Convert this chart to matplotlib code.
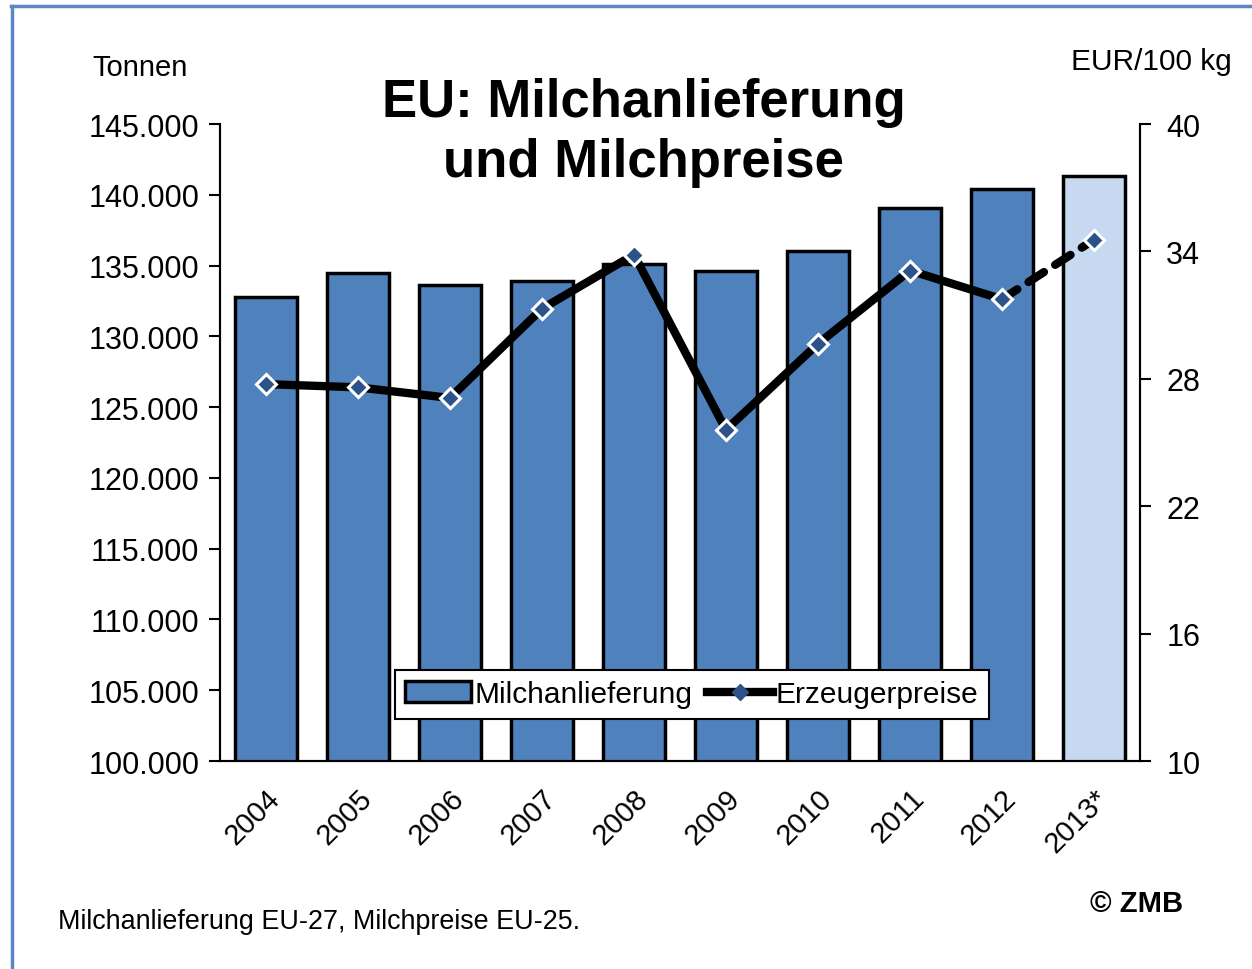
import matplotlib.pyplot as plt
import numpy as np
from matplotlib.lines import Line2D
from matplotlib.patches import Patch

plt.rcParams['font.family'] = ['Liberation Sans', 'DejaVu Sans']

years = ['2004', '2005', '2006', '2007', '2008', '2009', '2010', '2011', '2012', '2013*']
milk = [132800, 134500, 133600, 133900, 135100, 134600, 136000, 139100, 140400, 141300]   # Tonnen
price = [27.75, 27.6, 27.1, 31.3, 33.85, 25.6, 29.65, 33.1, 31.75, 34.55]                   # EUR/100 kg

bar_col = '#4F81BD'
bar_col_fc = '#C6D9F1'
mk_col = '#2B5289'

fig = plt.figure(figsize=(12.52, 9.70), dpi=100)
ax = fig.add_axes([0.1757, 0.2144, 0.7348, 0.6567])
ax2 = ax.twinx()

x = np.arange(len(years))
cols = [bar_col] * (len(years) - 1) + [bar_col_fc]
ax.bar(x, milk, width=0.68, color=cols, edgecolor='black', linewidth=2.5, zorder=2)

ax.set_ylim(100000, 145000)
ax.set_xlim(-0.5, len(years) - 0.5)
ax.set_yticks(np.arange(100000, 145001, 5000))
ax.set_yticklabels(['%d.000' % (v // 1000) for v in range(100000, 145001, 5000)], fontsize=22)
ax.set_xticks(x)
ax.set_xticklabels(years, rotation=45, ha='right', rotation_mode='anchor', fontsize=21)
ax.tick_params(axis='x', length=0, pad=16)
ax.tick_params(axis='y', direction='out', length=8, width=1.5, pad=7)

ax2.set_ylim(10, 40)
ax2.set_yticks([10, 16, 22, 28, 34, 40])
ax2.tick_params(axis='y', direction='out', length=8, width=1.5, labelsize=22, pad=11)

# solid line up to 2012, dashed to 2013 forecast
ax2.plot(x[:-1], price[:-1], color='black', linewidth=6, solid_capstyle='round', zorder=3)
ax2.plot(x[-2:], price[-2:], color='black', linewidth=6, linestyle=(0, (2.2, 1.6)),
         dash_capstyle='round', zorder=3)
ax2.plot(x, price, linestyle='none', marker='D', markersize=10, markerfacecolor=mk_col,
         markeredgecolor='white', markeredgewidth=2.2, zorder=4)

for a in (ax, ax2):
    a.spines['top'].set_visible(False)
    a.spines['left'].set_linewidth(1.5)
    a.spines['right'].set_linewidth(1.5)
    a.spines['bottom'].set_linewidth(1.5)

fig.text(0.112, 0.930, 'Tonnen', fontsize=21, ha='center', va='center')
fig.text(0.920, 0.936, 'EUR/100 kg', fontsize=21.5, ha='center', va='center')
fig.text(0.514, 0.863, 'EU: Milchanlieferung\nund Milchpreise', fontsize=38, fontweight='bold',
         ha='center', va='center', linespacing=1.25)
fig.text(0.046, 0.049, 'Milchanlieferung EU-27, Milchpreise EU-25.', fontsize=19.4,
         ha='left', va='center')
fig.text(0.908, 0.068, '© ZMB', fontsize=21, fontweight='bold', ha='center', va='center')

handles = [Patch(facecolor=bar_col, edgecolor='black', linewidth=2.5),
           Line2D([], [], color='black', linewidth=6, marker='D', markersize=8,
                  markerfacecolor=mk_col, markeredgecolor=mk_col)]
leg = ax.legend(handles, ['Milchanlieferung', 'Erzeugerpreise'], loc='center',
                bbox_to_anchor=(0.513, 0.105), ncol=2, fontsize=21.5, frameon=True,
                fancybox=False, edgecolor='black', framealpha=1, handlelength=2.2,
                handletextpad=0.1, columnspacing=0.5, borderpad=0.35)
leg.get_frame().set_linewidth(1.5)
leg.set_zorder(10)

# blue frame (left and top edges)
fig.add_artist(Line2D([0.0096, 0.0096], [0.0, 0.9928], transform=fig.transFigure,
                      color='#5B87C4', linewidth=2.5))
fig.add_artist(Line2D([0.0085, 1.0], [0.9928, 0.9928], transform=fig.transFigure,
                      color='#5B87C4', linewidth=2.5))

fig.savefig('out.png', dpi=100)
